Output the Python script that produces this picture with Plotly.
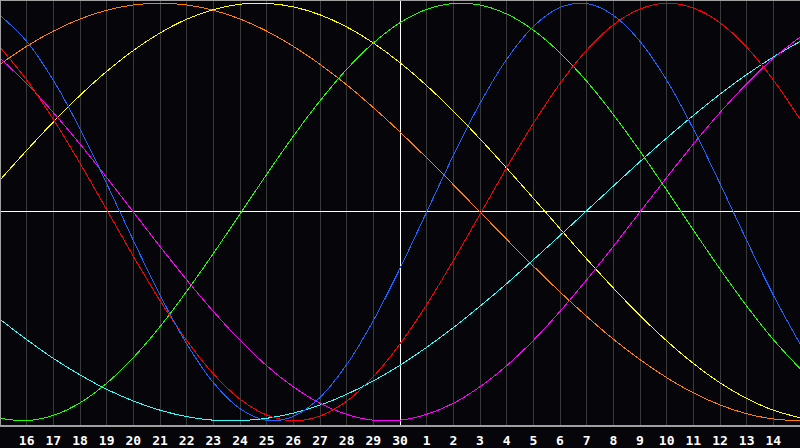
import plotly.graph_objects as go

# Day offset from today (-15 .. 15); today is the 30th
days = list(range(-15, 16))
day_labels = [str(d) for d in range(16, 31)] + [str(d) for d in range(1, 15)]
tick_pos = list(range(-14, 15))

# Curve values in percent, read per day off the chart
red = [78.9, 63.2, 44.4, 23.3, 1.1, -21.2, -42.4, -61.5, -77.5, -89.6, -97.2, -100, -97.7, -90.6,
       -78.9, -63.2, -44.4, -23.3, -1.1, 21.2, 42.4, 61.5, 77.5, 89.6, 97.2, 100, 97.7, 90.6,
       78.9, 63.2, 44.4]
blue = [94.2, 81.7, 63.1, 39.8, 13.6, -13.6, -39.8, -63.1, -81.7, -94.2, -99.8, -97.9, -88.8, -73.1,
        -52.0, -27.0, 0, 27.0, 52.0, 73.1, 88.8, 97.9, 99.8, 94.2, 81.7, 63.1, 39.8, 13.6,
        -13.6, -39.8, -63.1]
green = [-98.8, -99.9, -97.4, -91.4, -82.0, -69.7, -54.9, -38.0, -19.9, -1.0, 18.0, 36.3, 53.2, 68.3,
         80.9, 90.6, 97.0, 99.8, 99.1, 94.8, 87.1, 76.2, 62.6, 46.7, 29.1, 10.5, -8.6, -27.3,
         -45.0, -61.1, -75.0]
orange = [70.7, 79.3, 86.6, 92.4, 96.6, 99.1, 100, 99.1, 96.6, 92.4, 86.6, 79.3, 70.7, 60.9,
          50.0, 38.3, 25.9, 13.1, 0, -13.1, -25.9, -38.3, -50.0, -60.9, -70.7, -79.3, -86.6, -92.4,
          -96.6, -99.1, -100]
yellow = [15.3, 29.5, 43.1, 55.8, 67.3, 77.3, 85.7, 92.3, 96.9, 99.5, 99.9, 98.2, 94.4, 88.6,
          80.9, 71.5, 60.5, 48.3, 35.0, 21.0, 6.6, -8.0, -22.5, -36.4, -49.6, -61.7, -72.5, -81.8,
          -89.3, -94.9, -98.5]
cyan = [-51.4, -61.1, -70.1, -78.0, -84.9, -90.5, -94.9, -98.0, -99.7, -99.9, -98.8, -96.3, -92.5, -87.3,
        -80.9, -73.4, -64.8, -55.4, -45.1, -34.3, -22.9, -11.3, 0.6, 12.4, 24.1, 35.4, 46.2, 56.4,
        65.8, 74.2, 81.6]
magenta = [73.6, 61.5, 47.6, 32.5, 16.5, 0, -16.5, -32.5, -47.6, -61.4, -73.6, -83.7, -91.6, -96.9,
           -99.7, -99.7, -96.9, -91.6, -83.7, -73.6, -61.5, -47.6, -32.5, -16.5, 0, 16.5, 32.5, 47.6,
           61.4, 73.6, 83.7]

series = [
    (orange, '#ff7f00'),
    (yellow, '#ffff00'),
    (cyan, '#33ffff'),
    (magenta, '#ff00ff'),
    (green, '#22ff00'),
    (red, '#ff0000'),
    (blue, '#1a66ff'),
]

fig = go.Figure()
for values, color in series:
    fig.add_trace(go.Scatter(
        x=days, y=values, mode='lines',
        line=dict(color=color, width=1, shape='spline', smoothing=1.0),
        hoverinfo='skip', showlegend=False
    ))

fig.update_layout(
    width=800, height=448,
    margin=dict(l=0, r=0, t=0, b=20),
    paper_bgcolor='#060509', plot_bgcolor='#060509',
    xaxis=dict(
        range=[-15, 15], tickmode='array', tickvals=tick_pos, ticktext=day_labels,
        showgrid=True, gridcolor='#3a3a3a', gridwidth=1,
        zeroline=True, zerolinecolor='#ffffff', zerolinewidth=1,
        showline=True, linecolor='#a0a0a0', linewidth=2,
        ticks='', ticklabelstandoff=2,
        tickfont=dict(family='DejaVu Sans Mono', size=13, color='#ffffff', weight='bold'),
        fixedrange=True,
    ),
    yaxis=dict(
        range=[-102, 101.5], showticklabels=False, showgrid=False,
        zeroline=True, zerolinecolor='#ffffff', zerolinewidth=1,
        showline=False, fixedrange=True,
    ),
    shapes=[
        dict(type='line', xref='paper', yref='paper', x0=0, x1=0, y0=0, y1=1,
             line=dict(color='#a0a0a0', width=2)),
        dict(type='line', xref='paper', yref='paper', x0=0, x1=1, y0=1, y1=1,
             line=dict(color='#a0a0a0', width=2)),
    ],
)

# no body margin, and hard pixel lines like the original
js = """
document.body.style.margin='0';
document.querySelectorAll('path.js-line').forEach(function(p){p.style.shapeRendering='crispEdges';});
"""
fig.write_html("out.html", config={'displayModeBar': False}, post_script=js)
